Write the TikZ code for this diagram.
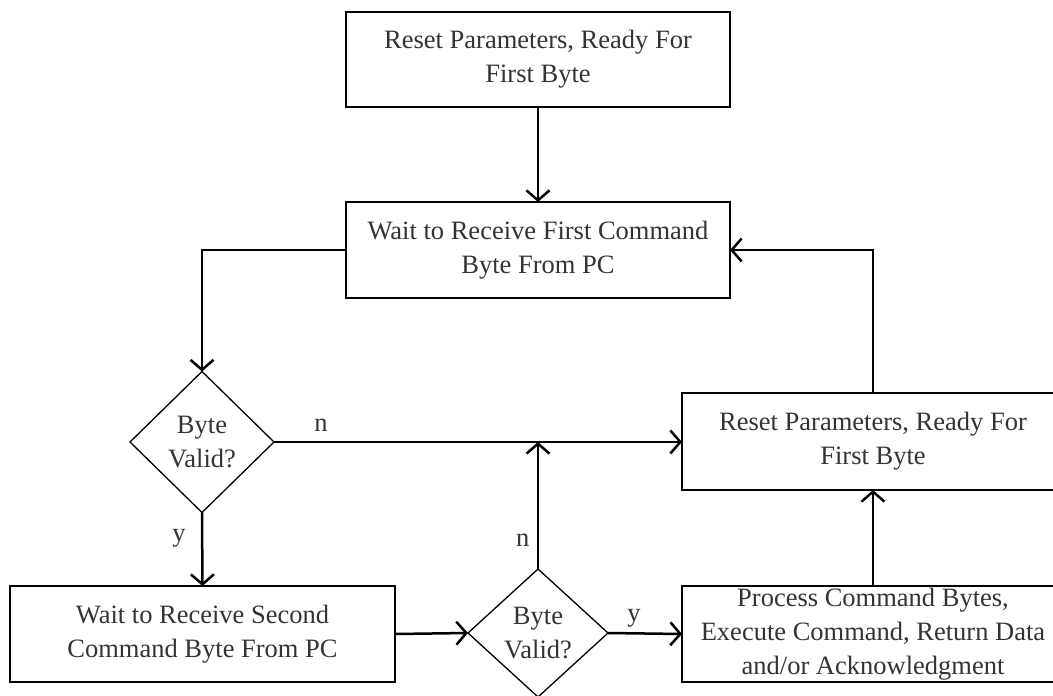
\documentclass[tikz,border=0pt]{standalone}
\usepackage{fontspec}
\setmainfont{Liberation Serif}
\usetikzlibrary{shapes.geometric,arrows.meta}

\tikzset{
  every node/.style={font=\fontsize{26.5pt}{34pt}\selectfont, text=black!80},
  stepbox/.style={draw, rectangle, line width=2pt, align=center, minimum height=96pt, inner sep=0pt, outer sep=0pt},
  test/.style={draw, diamond, line width=1.3pt, align=center, inner sep=0pt, outer sep=0pt},
  flow/.style={line width=2.5pt, -{Straight Barb[length=10pt,width=23pt]}},
}

\begin{document}
\begin{tikzpicture}[x=1pt, y=-1pt]
    
    \clip (0,0) rectangle (1053,696);
    
    \node[stepbox, minimum width=384pt, minimum height=95pt] (reset1) at (538,59.5) {Reset Parameters, Ready For\\First Byte};
    \node[stepbox, minimum width=384pt] (wait1) at (538,250) {Wait to Receive First Command\\Byte From PC};
    \node[test, minimum width=144pt, minimum height=141pt] (valid1) at (202,442) {Byte\\Valid?};
    \node[stepbox, minimum width=382pt, minimum height=97pt] (reset2) at (873,441.5) {Reset Parameters, Ready For\\First Byte};
    \node[stepbox, minimum width=385pt] (wait2) at (202.5,634) {Wait to Receive Second\\Command Byte From PC};
    \node[test, minimum width=140pt, minimum height=128pt] (valid2) at (538,633) {Byte\\Valid?};
    \node[stepbox, minimum width=382pt] (process) at (873,634) {Process Command Bytes,\\Execute Command, Return Data\\and/or Acknowledgment};
    
    \coordinate (join) at (valid2.north |- valid1.east);
    
    \draw[flow] (reset1) -- (wait1);
    \draw[flow] (wait1.west) -| (valid1.north);
    \draw[flow] (valid1.east) -- node[above=6pt, pos=0.115] {n} (valid1.east -| reset2.west);
    \draw[flow] (valid1.south) -- node[left=12pt, pos=0.35] {y} (wait2.north);
    \draw[flow] (wait2.east) -- (valid2.west);
    \draw[flow] (valid2.east) -- node[above=2pt, pos=0.35] {y} (process.west);
    \draw[flow] (valid2.north) -- node[left=4pt, pos=0.23] {n} (join);
    \draw[flow] (process.north) -- (reset2.south);
    \draw[flow] (reset2.north) |- (wait1.east);
    
\end{tikzpicture}
\end{document}
